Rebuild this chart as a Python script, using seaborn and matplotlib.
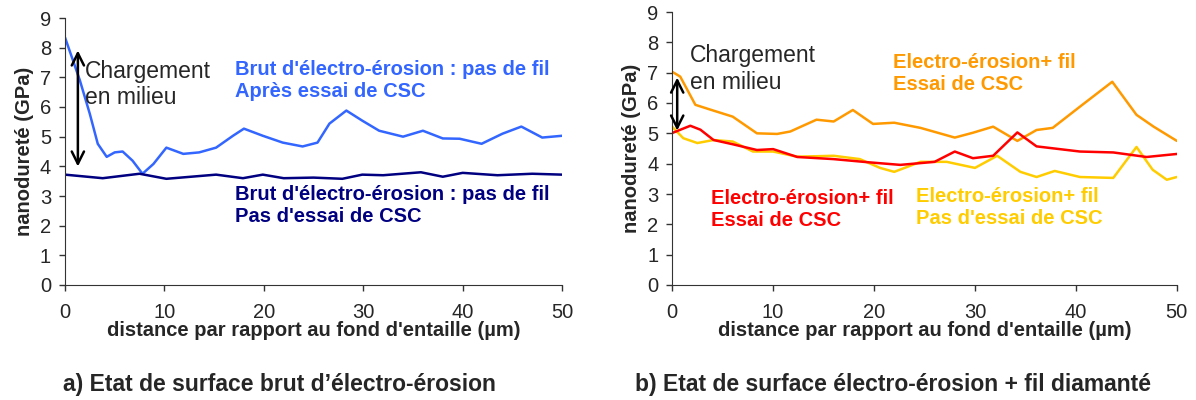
import matplotlib
matplotlib.use('Agg')
import matplotlib.pyplot as plt
import seaborn as sns

sns.set_style('ticks')
plt.rcParams['font.family'] = ['Liberation Sans', 'DejaVu Sans']

# a) brut d'électro-érosion
dist_a1 = [0, 1.5, 2.5, 3.3, 4.2, 5, 5.8, 6.8, 7.8, 8.9, 10.2, 11.9, 13.5, 15.2, 16.9, 18, 19.9,
           21.9, 23.9, 25.4, 26.6, 28.3, 29.9, 31.6, 34, 36, 38, 39.7, 41.9, 44, 45.9, 48, 50]
apres_csc = [8.35, 6.9, 5.77, 4.76, 4.32, 4.47, 4.5, 4.19, 3.75, 4.08, 4.63, 4.42, 4.47, 4.63, 5.03, 5.27, 5.03,
             4.8, 4.67, 4.8, 5.44, 5.88, 5.54, 5.2, 5.0, 5.2, 4.94, 4.93, 4.76, 5.1, 5.34, 4.97, 5.03]

dist_a2 = [0, 3.8, 7.5, 10.2, 15.2, 17.9, 19.9, 22, 25, 27.9, 29.9, 32, 35.8, 38, 40, 43.5, 47, 50]
sans_csc = [3.72, 3.6, 3.75, 3.58, 3.72, 3.6, 3.72, 3.6, 3.62, 3.58, 3.72, 3.7, 3.8, 3.65, 3.78, 3.7, 3.75, 3.72]

# b) électro-érosion + fil diamanté
dist_b1 = [0, 0.8, 2.3, 3.8, 6, 8.4, 10.4, 11.7, 14.3, 16, 17.9, 19.9, 22, 24.6, 28, 29.8, 31.8,
           34.2, 36.1, 37.7, 40.4, 43.6, 46, 47.7, 50]
fil_csc_orange = [7.03, 6.87, 5.94, 5.78, 5.55, 5.0, 4.98, 5.06, 5.45, 5.39, 5.77, 5.31, 5.35, 5.18, 4.86, 5.02, 5.22,
                  4.75, 5.11, 5.18, 5.88, 6.7, 5.61, 5.22, 4.75]

dist_b2 = [0, 1.8, 2.8, 4.1, 6, 8.4, 10, 12.4, 16, 19.3, 22.6, 26, 28, 29.8, 31.8, 34.2, 36.1, 40.4, 43.7, 47, 50]
fil_csc_rouge = [5.01, 5.25, 5.12, 4.78, 4.64, 4.45, 4.48, 4.22, 4.15, 4.05, 3.96, 4.06, 4.4, 4.18, 4.26, 5.03,
                 4.57, 4.4, 4.37, 4.22, 4.32]

dist_b3 = [0, 1.1, 2.5, 4.1, 6, 8, 10, 12.4, 16, 18.6, 20.6, 22, 24.6, 27.2, 30, 32.2, 34.5, 36.1, 37.9,
           40.4, 43.7, 46, 47.6, 49, 50]
fil_sans_csc = [5.22, 4.84, 4.68, 4.78, 4.73, 4.4, 4.4, 4.23, 4.26, 4.15, 3.86, 3.73, 4.06, 4.06, 3.86, 4.26, 3.73,
                3.56, 3.76, 3.56, 3.53, 4.55, 3.8, 3.47, 3.56]

xlabel = "distance par rapport au fond d'entaille (µm)"
ylabel = "nanodureté (GPa)"

fig = plt.figure(figsize=(11.96, 4), dpi=100)
ax1 = fig.add_axes([0.0543, 0.2875, 0.4157, 0.6675])
ax2 = fig.add_axes([0.562, 0.2875, 0.422, 0.6825])

line_kw = dict(lw=1.8, solid_joinstyle='round', solid_capstyle='round')
sns.lineplot(x=dist_a1, y=apres_csc, ax=ax1, color='#3366FF', **line_kw)
sns.lineplot(x=dist_a2, y=sans_csc, ax=ax1, color='#000080', **line_kw)

sns.lineplot(x=dist_b1, y=fil_csc_orange, ax=ax2, color='#FF9900', **line_kw)
sns.lineplot(x=dist_b3, y=fil_sans_csc, ax=ax2, color='#FFCC00', **line_kw)
sns.lineplot(x=dist_b2, y=fil_csc_rouge, ax=ax2, color='#FF0000', **line_kw)

for ax in (ax1, ax2):
    ax.set_xlim(0, 50)
    ax.set_ylim(0, 9)
    ax.set_xticks(range(0, 51, 10))
    ax.set_yticks(range(0, 10))
    ax.tick_params(direction='out', length=4, width=1, labelsize=14.5, color='#333333')
    ax.tick_params(axis='x', pad=9)
    ax.tick_params(axis='y', pad=6)
    ax.set_xlabel(xlabel, fontsize=14.5, fontweight='bold', labelpad=-1)
    ax.set_ylabel(ylabel, fontsize=14.5, fontweight='bold', labelpad=4)
    for s in ('left', 'bottom'):
        ax.spines[s].set_color('#333333')
sns.despine(fig=fig)

# annotations
ax1.annotate('', xy=(1.3, 8.0), xytext=(1.3, 3.9),
             arrowprops=dict(arrowstyle='<->', color='black', lw=1.8, mutation_scale=22))
ax1.text(2.0, 6.76, 'Chargement\nen milieu', fontsize=16.5, va='center', ha='left', linespacing=1.2)
ax1.text(17.1, 6.9, "Brut d'électro-érosion : pas de fil\nAprès essai de CSC", fontsize=14.5,
         fontweight='bold', color='#3366FF', va='center', ha='left', linespacing=1.2)
ax1.text(17.1, 2.67, "Brut d'électro-érosion : pas de fil\nPas d'essai de CSC", fontsize=14.5,
         fontweight='bold', color='#000080', va='center', ha='left', linespacing=1.2)

ax2.annotate('', xy=(0.5, 6.93), xytext=(0.5, 5.0),
             arrowprops=dict(arrowstyle='<->', color='black', lw=1.8, mutation_scale=22))
ax2.text(1.8, 7.13, 'Chargement\nen milieu', fontsize=16.5, va='center', ha='left', linespacing=1.2)
ax2.text(21.9, 6.96, "Electro-érosion+ fil\nEssai de CSC", fontsize=14.5,
         fontweight='bold', color='#FF9900', va='center', ha='left', linespacing=1.2)
ax2.text(3.8, 2.5, "Electro-érosion+ fil\nEssai de CSC", fontsize=14.5,
         fontweight='bold', color='#FF0000', va='center', ha='left', linespacing=1.2)
ax2.text(24.2, 2.57, "Electro-érosion+ fil\nPas d'essai de CSC", fontsize=14.5,
         fontweight='bold', color='#FFCC00', va='center', ha='left', linespacing=1.2)

fig.text(63 / 1196, 0.0375, "a) Etat de surface brut d’électro-érosion", fontsize=16.5,
         fontweight='bold', ha='left', va='center')
fig.text(635 / 1196, 0.0375, "b) Etat de surface électro-érosion + fil diamanté", fontsize=16.5,
         fontweight='bold', ha='left', va='center')

fig.savefig('out.png', dpi=100)
